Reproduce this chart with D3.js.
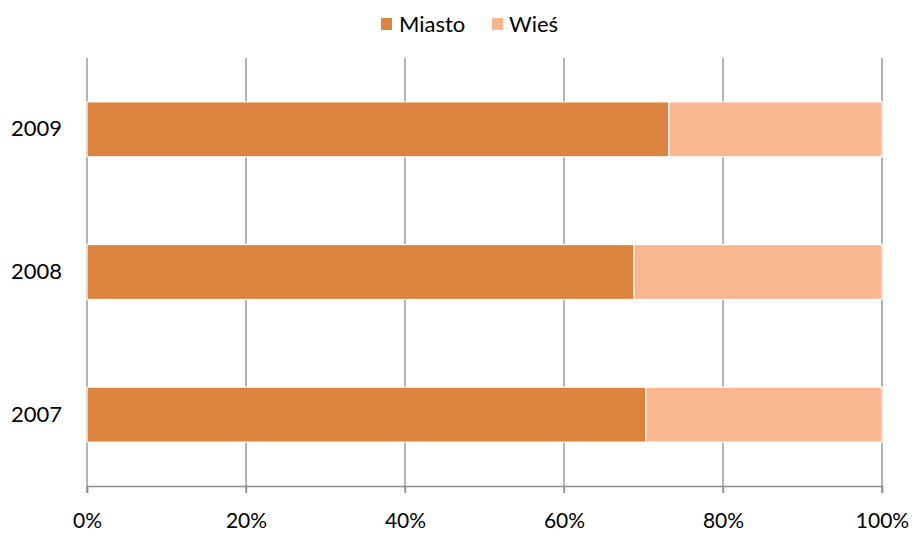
<!DOCTYPE html>
<html><head><meta charset="utf-8">
<script src="https://cdn.jsdelivr.net/npm/d3@7"></script>
<style>body{margin:0;background:#fff}svg{display:block;font-family:Lato,"Open Sans",sans-serif}</style>
</head><body>
<svg id="c" width="914" height="536"></svg>
<script>
const categories = ["2009","2008","2007"];
const seriesNames = ["Miasto","Wieś"];
const miasto = [73.2, 68.8, 70.3];
const wies = [26.8, 31.2, 29.7];
const tickValues = [0,20,40,60,80,100];
const colors = ["#DC843F","#F8B691"];

const svg = d3.select("#c");
const x = d3.scaleLinear().domain([0,100]).range([87,882]);
const p = 0.615;
const y = d3.scaleBand().domain(categories).range([58,486]).paddingInner(p).paddingOuter(p/2);

// gridlines
svg.append("g").selectAll("line").data(tickValues).join("line")
  .attr("x1",d=>x(d)).attr("x2",d=>x(d)).attr("y1",58).attr("y2",493)
  .attr("stroke","#8c8c8c").attr("stroke-width",1.3);

// x axis
const xa = svg.append("g").attr("transform","translate(0,486)")
  .call(d3.axisBottom(x).tickValues(tickValues).tickFormat(d=>d+"%").tickSize(7).tickPadding(20));
xa.select(".domain").attr("stroke","#8c8c8c").attr("stroke-width",1.5);
xa.selectAll(".tick line").attr("stroke","#8c8c8c").attr("stroke-width",1.3);
xa.selectAll("text").attr("font-size",21).attr("font-family","Lato").attr("fill","#000");

// y axis labels
const ya = svg.append("g").attr("transform","translate(87,0)")
  .call(d3.axisLeft(y).tickSize(0).tickPadding(25));
ya.select(".domain").remove();
ya.selectAll("text").attr("font-size",22).attr("font-family","Lato").attr("fill","#000");

// stacked bars
const rows = categories.map((c,i)=>({cat:c, Miasto:miasto[i], "Wieś":wies[i]}));
const stacked = d3.stack().keys(seriesNames)(rows);
svg.append("g").selectAll("g").data(stacked).join("g")
  .attr("fill",(d,i)=>colors[i])
  .selectAll("rect").data(d=>d).join("rect")
  .attr("x",d=>x(d[0])).attr("width",d=>x(d[1])-x(d[0]))
  .attr("y",d=>y(d.data.cat)).attr("height",y.bandwidth())
  .attr("stroke","#fff").attr("stroke-width",1.2);

// legend
const leg = svg.append("g");
const legItems = [{name:"Miasto",sx:381,tx:399},{name:"Wieś",sx:492,tx:509}];
legItems.forEach((it,i)=>{
  leg.append("rect").attr("x",it.sx).attr("y",18).attr("width",11).attr("height",12).attr("fill",colors[i]);
  leg.append("text").attr("x",it.tx).attr("y",32).attr("font-size",22).attr("fill","#000").text(it.name);
});
</script>
</body></html>
